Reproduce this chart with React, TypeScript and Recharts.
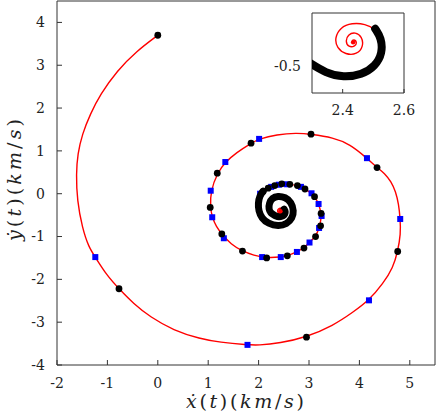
import React from "react";
import { ScatterChart, Scatter, XAxis, YAxis, Label } from "recharts";

type Pt = { x: number; y: number };

// trajectory (km/s)
const outerPath: Pt[] = [
  { x: 0, y: 3.7 }, { x: -0.42, y: 3.33 }, { x: -0.81, y: 2.87 }, { x: -1.14, y: 2.32 },
  { x: -1.34, y: 1.86 }, { x: -1.5, y: 1.39 }, { x: -1.59, y: 0.93 }, { x: -1.62, y: 0.46 },
  { x: -1.6, y: -0.16 }, { x: -1.5, y: -0.79 }, { x: -1.37, y: -1.25 }, { x: -1.24, y: -1.48 },
  { x: -1.01, y: -1.91 }, { x: -0.77, y: -2.22 }, { x: -0.48, y: -2.57 }, { x: -0.15, y: -2.88 },
  { x: 0.31, y: -3.19 }, { x: 0.84, y: -3.39 }, { x: 1.23, y: -3.47 }, { x: 1.78, y: -3.53 },
  { x: 1.99, y: -3.54 }, { x: 2.42, y: -3.49 }, { x: 2.95, y: -3.35 }, { x: 3.48, y: -3.08 },
  { x: 3.87, y: -2.77 }, { x: 4.19, y: -2.49 }, { x: 4.47, y: -2.1 }, { x: 4.67, y: -1.72 },
  { x: 4.76, y: -1.35 }, { x: 4.82, y: -0.94 }, { x: 4.81, y: -0.59 }, { x: 4.78, y: -0.25 },
  { x: 4.72, y: 0.05 }, { x: 4.63, y: 0.28 }, { x: 4.5, y: 0.48 }, { x: 4.35, y: 0.61 },
  { x: 4.15, y: 0.83 }, { x: 3.81, y: 1.16 }, { x: 3.48, y: 1.31 }, { x: 3.04, y: 1.39 },
  { x: 2.75, y: 1.42 }, { x: 2.36, y: 1.38 }, { x: 2.01, y: 1.28 }, { x: 1.85, y: 1.18 },
  { x: 1.56, y: 0.96 }, { x: 1.34, y: 0.74 }, { x: 1.18, y: 0.48 }, { x: 1.05, y: 0.07 },
  { x: 1.04, y: -0.32 },
];

const innerLoop: Pt[] = [
  { x: 1.08, y: -0.55 }, { x: 1.16, y: -0.77 }, { x: 1.27, y: -0.94 }, { x: 1.45, y: -1.18 },
  { x: 1.68, y: -1.34 }, { x: 1.9, y: -1.44 }, { x: 2.16, y: -1.5 }, { x: 2.44, y: -1.48 },
  { x: 2.57, y: -1.45 }, { x: 2.76, y: -1.36 }, { x: 2.9, y: -1.27 }, { x: 3.01, y: -1.14 },
  { x: 3.13, y: -1.0 }, { x: 3.2, y: -0.82 }, { x: 3.24, y: -0.6 }, { x: 3.24, y: -0.46 },
  { x: 3.2, y: -0.26 }, { x: 3.13, y: -0.09 }, { x: 3.05, y: 0.01 }, { x: 2.92, y: 0.11 },
  { x: 2.77, y: 0.19 }, { x: 2.62, y: 0.22 }, { x: 2.46, y: 0.23 }, { x: 2.32, y: 0.19 },
  { x: 2.19, y: 0.13 },
];

// part where the samples crowd into a thick black band
const spiralCore: Pt[] = [
  { x: 2.09, y: 0.06 }, { x: 2.02, y: -0.05 }, { x: 1.99, y: -0.22 }, { x: 2.0, y: -0.4 },
  { x: 2.06, y: -0.57 }, { x: 2.19, y: -0.7 }, { x: 2.39, y: -0.76 }, { x: 2.56, y: -0.71 },
  { x: 2.67, y: -0.57 }, { x: 2.7, y: -0.4 }, { x: 2.65, y: -0.2 }, { x: 2.53, y: -0.08 },
  { x: 2.38, y: -0.05 }, { x: 2.27, y: -0.1 }, { x: 2.21, y: -0.22 }, { x: 2.2, y: -0.36 },
  { x: 2.24, y: -0.45 }, { x: 2.294, y: -0.4875 }, { x: 2.344, y: -0.525 }, { x: 2.403, y: -0.542 },
  { x: 2.463, y: -0.531 }, { x: 2.506, y: -0.5 }, { x: 2.53, y: -0.45 }, { x: 2.526, y: -0.394 },
  { x: 2.506, y: -0.359 },
];

const centerTail: Pt[] = [
  { x: 2.474, y: -0.341 }, { x: 2.43, y: -0.337 }, { x: 2.392, y: -0.354 }, { x: 2.374, y: -0.394 },
  { x: 2.381, y: -0.431 }, { x: 2.409, y: -0.456 }, { x: 2.447, y: -0.456 }, { x: 2.468, y: -0.425 },
  { x: 2.463, y: -0.388 }, { x: 2.441, y: -0.371 }, { x: 2.417, y: -0.381 }, { x: 2.409, y: -0.406 },
  { x: 2.419, y: -0.429 }, { x: 2.441, y: -0.425 }, { x: 2.447, y: -0.409 }, { x: 2.436, y: -0.397 },
  { x: 2.428, y: -0.409 }, { x: 2.434, y: -0.41 },
];

const centerPoint: Pt[] = [{ x: 2.434, y: -0.41 }];

const blackDots: Pt[] = [
  { x: 0, y: 3.7 }, { x: -0.77, y: -2.22 }, { x: 2.95, y: -3.35 }, { x: 4.76, y: -1.35 },
  { x: 4.35, y: 0.61 }, { x: 3.04, y: 1.39 }, { x: 1.85, y: 1.18 }, { x: 1.18, y: 0.48 },
  { x: 1.04, y: -0.32 }, { x: 1.27, y: -0.94 }, { x: 1.68, y: -1.34 }, { x: 2.16, y: -1.5 },
  { x: 2.57, y: -1.45 }, { x: 2.9, y: -1.27 }, { x: 3.13, y: -1.0 }, { x: 3.23, y: -0.75 },
  { x: 3.24, y: -0.46 }, { x: 3.11, y: -0.07 }, { x: 2.92, y: 0.11 }, { x: 2.77, y: 0.19 },
  { x: 2.62, y: 0.22 }, { x: 2.46, y: 0.23 }, { x: 2.32, y: 0.19 }, { x: 2.19, y: 0.13 },
  { x: 2.09, y: 0.05 },
];

const blueSquares: Pt[] = [
  { x: -1.24, y: -1.48 }, { x: 1.78, y: -3.53 }, { x: 4.19, y: -2.49 }, { x: 4.81, y: -0.59 },
  { x: 4.15, y: 0.83 }, { x: 2.01, y: 1.28 }, { x: 1.34, y: 0.74 }, { x: 1.05, y: 0.07 },
  { x: 1.08, y: -0.55 }, { x: 1.31, y: -1.04 }, { x: 2.07, y: -1.48 }, { x: 2.44, y: -1.48 },
  { x: 2.76, y: -1.36 }, { x: 3.01, y: -1.14 }, { x: 3.2, y: -0.8 }, { x: 3.25, y: -0.52 },
  { x: 3.19, y: -0.24 }, { x: 3.05, y: 0.01 }, { x: 2.84, y: 0.16 }, { x: 2.56, y: 0.22 },
  { x: 2.4, y: 0.21 }, { x: 2.25, y: 0.16 }, { x: 2.03, y: 0.0 },
];

const xTicks = [-2, -1, 0, 1, 2, 3, 4, 5];
const yTicks = [-4, -3, -2, -1, 0, 1, 2, 3, 4];
const insetXTicks = [2.4, 2.6];
const insetYTicks = [-0.5];

const fullPath = [...outerPath, ...innerLoop, ...spiralCore, ...centerTail];
const corePath = [...spiralCore, ...centerTail];

const FRAME = "#333";
const SERIF = "DejaVu Serif";

const NoShape = () => <g />;
const Dot = (p: any) => <circle cx={p.cx} cy={p.cy} r={3.4} fill="#000" />;
const Square = (p: any) => <rect x={p.cx - 3} y={p.cy - 3} width={6} height={6} fill="#0000ff" />;
const CenterDot = (p: any) => <circle cx={p.cx} cy={p.cy} r={2.2} fill="#ff0000" />;

const BottomTick = (p: any) => (
  <text x={p.x} y={p.y} dy="0.71em" textAnchor="middle" fontSize={14} fill="#222" fontFamily={SERIF}>
    {p.payload.value}
  </text>
);
const LeftTick = (p: any) => (
  <text x={p.x} y={p.y} dy="0.35em" textAnchor="end" fontSize={14} fill="#222" fontFamily={SERIF}>
    {p.payload.value}
  </text>
);

// ẋ(t)(km/s) with math-italic letters and upright brackets
const Title = ({ dotted }: { dotted: string }) => (
  <>
    <tspan fontStyle="italic">{dotted}</tspan>{"("}<tspan fontStyle="italic">t</tspan>{")("}
    <tspan fontStyle="italic">km</tspan>{"/"}<tspan fontStyle="italic">s</tspan>{")"}
  </>
);

export default function App() {
  return (
    <div style={{ position: "absolute", left: 0, top: 0, width: 436, height: 418, background: "#fff" }}>
      <ScatterChart width={436} height={418} margin={{ top: 0, right: 0, left: 0, bottom: 0 }}>
        <XAxis
          dataKey="x" type="number" domain={[-2, 5.5]} ticks={xTicks} height={53}
          stroke={FRAME} tickSize={-5} tickMargin={18} tick={BottomTick}
        >
          <Label
            content={() => (
              <text x={245} y={408} textAnchor="middle" textLength={118} lengthAdjust="spacing"
                fontSize={19} fill="#222" fontFamily={SERIF}>
                <Title dotted="ẋ" />
              </text>
            )}
          />
        </XAxis>
        <XAxis
          xAxisId="top" orientation="top" type="number" domain={[-2, 5.5]} ticks={xTicks} height={1}
          stroke={FRAME} tickSize={-5} tick={false} allowDataOverflow
        />
        <YAxis
          dataKey="y" type="number" domain={[-4, 4.5]} ticks={yTicks} width={57}
          stroke={FRAME} tickSize={-5} tickMargin={17} tick={LeftTick}
        >
          <Label
            content={() => (
              <text x={21} y={180} transform="rotate(-90 21 180)" textAnchor="middle" textLength={122}
                lengthAdjust="spacing" fontSize={19} fill="#222" fontFamily={SERIF}>
                <Title dotted="ẏ" />
              </text>
            )}
          />
        </YAxis>
        <YAxis
          yAxisId="right" orientation="right" type="number" domain={[-4, 4.5]} ticks={yTicks} width={1}
          stroke={FRAME} tickSize={-5} tick={false} allowDataOverflow
        />
        <Scatter data={fullPath} line={{ stroke: "#ff0000", strokeWidth: 1.4 }} lineJointType="basis"
          shape={NoShape} isAnimationActive={false} />
        <Scatter data={blueSquares} shape={Square} isAnimationActive={false} />
        <Scatter data={spiralCore} line={{ stroke: "#000", strokeWidth: 7, strokeLinecap: "round" }}
          lineJointType="basis" shape={NoShape} isAnimationActive={false} />
        <Scatter data={blackDots} shape={Dot} isAnimationActive={false} />
        <Scatter data={centerPoint} shape={CenterDot} isAnimationActive={false} />
      </ScatterChart>

      <div style={{ position: "absolute", left: 262, top: 0 }}>
        <ScatterChart width={166} height={125} margin={{ top: 12, right: 23, left: 0, bottom: 0 }}>
          <XAxis
            dataKey="x" type="number" domain={[2.3, 2.6]} ticks={insetXTicks} height={32}
            stroke={FRAME} tickSize={-4} tickMargin={16} tick={BottomTick} allowDataOverflow
          />
          <XAxis
            xAxisId="top" orientation="top" type="number" domain={[2.3, 2.6]} ticks={insetXTicks} height={1}
            stroke={FRAME} tickSize={-4} tick={false} allowDataOverflow
          />
          <YAxis
            dataKey="y" type="number" domain={[-0.6, -0.3]} ticks={insetYTicks} width={50}
            stroke={FRAME} tickSize={-4} tickMargin={15} tick={LeftTick} allowDataOverflow
          />
          <YAxis
            yAxisId="right" orientation="right" type="number" domain={[-0.6, -0.3]} ticks={insetYTicks} width={1}
            stroke={FRAME} tickSize={-4} tick={false} allowDataOverflow
          />
          <Scatter data={corePath} line={{ stroke: "#ff0000", strokeWidth: 1.4 }} lineJointType="basis"
            shape={NoShape} isAnimationActive={false} />
          <Scatter data={spiralCore} line={{ stroke: "#000", strokeWidth: 8, strokeLinecap: "round" }}
            lineJointType="basis" shape={NoShape} isAnimationActive={false} />
          <Scatter data={centerPoint} shape={CenterDot} isAnimationActive={false} />
        </ScatterChart>
      </div>
    </div>
  );
}
